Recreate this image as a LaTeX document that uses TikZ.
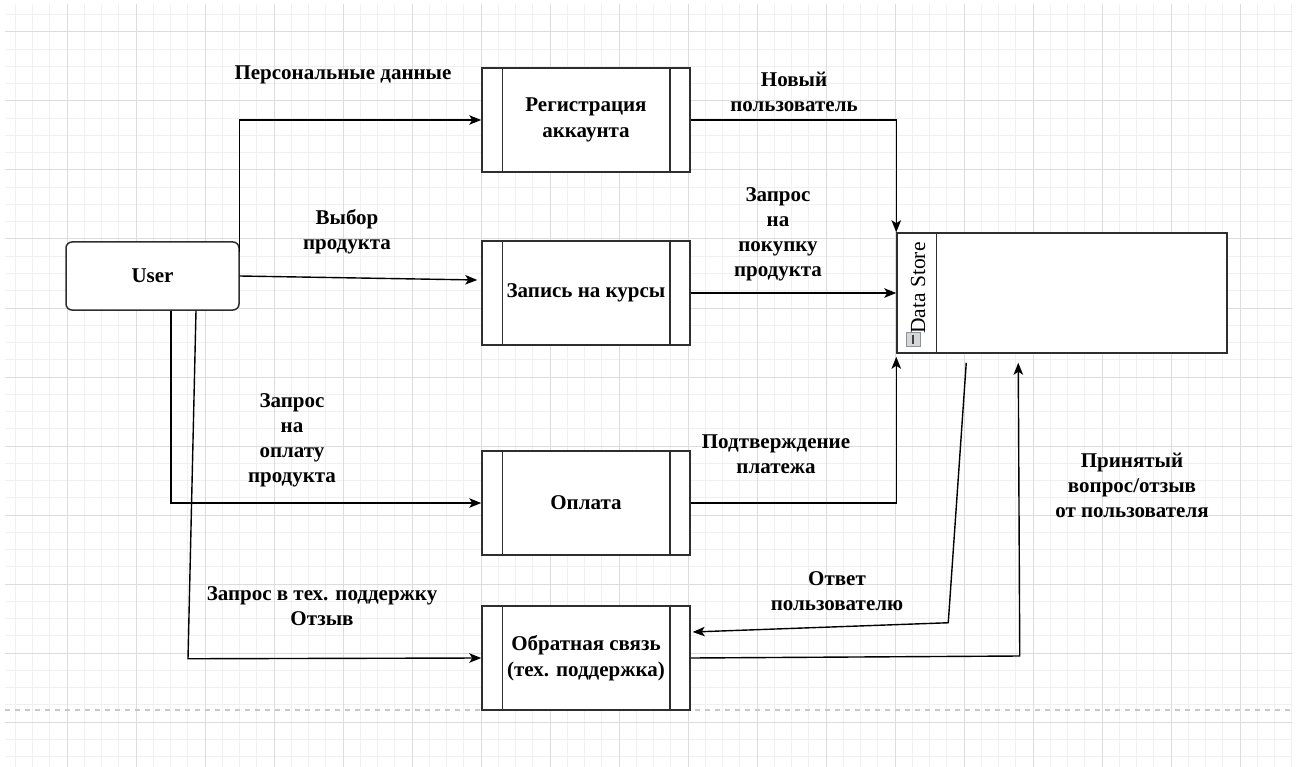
\documentclass[tikz,border=0pt]{standalone}
\usepackage{fontspec}
\setmainfont{Liberation Serif}
\usetikzlibrary{arrows.meta,calc}
\definecolor{gridminor}{HTML}{F0F0F0}
\definecolor{gridmajor}{HTML}{DCDCDC}
\definecolor{boxc}{HTML}{2E2E2E}
\definecolor{dashc}{HTML}{C8C8C8}
\definecolor{iconfill}{HTML}{D4D6DA}
\definecolor{iconborder}{HTML}{8E939A}
\begin{document}
\begin{tikzpicture}[x=1pt,y=-1pt,
  lbl/.style={font=\fontsize{21}{25}\selectfont\bfseries, align=center, inner sep=0pt, text=black},
  proc/.style={draw=boxc, line width=1.5pt, fill=white, minimum width=208pt, minimum height=104pt, inner sep=0pt, align=center, font=\fontsize{21}{26}\selectfont\bfseries},
  boxline/.style={draw=boxc, line width=1.5pt},
  conn/.style={draw=black, line width=1.4pt, -{Stealth[length=12pt,width=9.5pt,inset=3pt]}},
  gmin/.style={draw=gridminor, line width=1pt},
  gmaj/.style={draw=gridmajor, line width=1pt}
]
\useasboundingbox (0,0) rectangle (1297,767);
\fill[white] (0,0) rectangle (1297,767);
% grid
\begin{scope}
\clip (5,5) rectangle (1292,767);
\foreach \i in {0,...,76} {
  \draw[gmin] ({-2+17.25*\i},0) -- ({-2+17.25*\i},767);
  \draw[gmin] (0,{-2.5+17.25*\i}) -- (1297,{-2.5+17.25*\i});
}
\foreach \i in {0,...,19} {
  \draw[gmaj] ({-2+69*\i},0) -- ({-2+69*\i},767);
  \draw[gmaj] (0,{-37+69*\i}) -- (1297,{-37+69*\i});
}
\end{scope}
\draw[dashc, line width=1.5pt, dash pattern=on 5pt off 5pt] (5,710) -- (1292,710);

% nodes
\node[draw=boxc, line width=1.5pt, fill=white, rounded corners=6pt, minimum width=173pt, minimum height=68pt, inner sep=0pt, font=\fontsize{21}{24}\selectfont\bfseries] (user) at (152.5,276) {User};
\node[proc] (reg) at (586,120) {Регистрация\\аккаунта};
\node[proc] (zap) at (586,293) {Запись на курсы};
\node[proc] (opl) at (586,503) {Оплата};
\node[proc] (obr) at (586,658) {Обратная связь\\(тех. поддержка)};
\foreach \n in {reg,zap,opl,obr} {
  \draw[boxline] ([xshift=21pt]\n.north west) -- ([xshift=21pt]\n.south west);
  \draw[boxline] ([xshift=-21pt]\n.north east) -- ([xshift=-21pt]\n.south east);
}
\node[draw=boxc, line width=1.5pt, fill=white, minimum width=330pt, minimum height=120pt, inner sep=0pt] (ds) at (1062,293) {};
\draw[boxline] ([xshift=40pt]ds.north west) -- ([xshift=40pt]ds.south west);
\node[rotate=90, font=\fontsize{21.5}{24}\selectfont, inner sep=0pt] (dslbl) at (918,288) {Data Store};
\node[draw=iconborder, fill=iconfill, line width=1pt, minimum size=14pt, inner sep=0pt] (icon) at (913,339) {};
\draw[line width=1.4pt, black!75] ([yshift=4.5pt]icon.center) -- ([yshift=-4.5pt]icon.center);

% labels
\node[lbl] (l1) at (343,75) {Персональные данные};
\node[lbl] (l2) at (347,232) {Выбор\\продукта};
\node[lbl] (l3) at (794,92) {Новый\\пользователь};
\node[lbl] (l4) at (778,234) {Запрос\\на\\покупку\\продукта};
\node[lbl] (l5) at (292,440) {Запрос\\на\\оплату\\продукта};
\node[lbl] (l6) at (776,454) {Подтверждение\\платежа};
\node[lbl] (l7) at (1132,485) {Принятый\\вопрос/отзыв\\от пользователя};
\node[lbl] (l8) at (837,591) {Ответ\\пользователю};
\node[lbl] (l9) at (322,606) {Запрос в тех. поддержку\\Отзыв};

% connectors
\draw[conn] ([yshift=-11pt]user.north east) |- (reg.west);
\draw[conn] (user.east) -- ([xshift=-4pt,yshift=13pt]zap.west);
\draw[conn] ([xshift=18.5pt]user.south) |- (opl.west);
\draw[conn] ([xshift=43.5pt]user.south) -- ++(-8,348) -- (obr.west);
\draw[conn] (reg.east) -| (ds.north west);
\draw[conn] (zap.east) -- (zap.east -| ds.west);
\draw[conn] (opl.east) -| ([yshift=-3pt]ds.south west);
\draw[conn] ([xshift=70pt,yshift=-9pt]ds.south west) -- ++(-18,260) -- ([xshift=2pt,yshift=26pt]obr.east);
\draw[conn] (obr.east) -- ++(329,-2) -- ([xshift=122pt,yshift=-9pt]ds.south west);
\end{tikzpicture}
\end{document}
